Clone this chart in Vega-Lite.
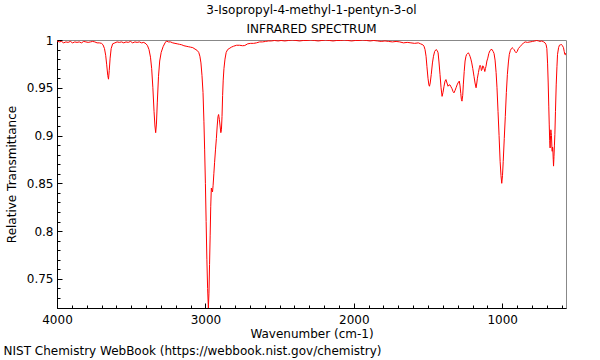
{
  "$schema": "https://vega.github.io/schema/vega-lite/v6.json",
  "width": 509,
  "height": 268,
  "autosize": {"type": "none"},
  "padding": {"left": 57, "top": 40, "right": 34, "bottom": 52},
  "background": "white",
  "config": {
    "font": "DejaVu Sans",
    "view": {"stroke": "#888888", "strokeWidth": 1},
    "axis": {"grid": false, "domainColor": "black", "tickColor": "black", "labelColor": "black", "titleColor": "black", "labelFontSize": 12, "titleFontSize": 12, "titleFontWeight": "normal", "labelFont": "DejaVu Sans", "titleFont": "DejaVu Sans", "labelFlush": false}
  },
  "title": {"text": ["3-Isopropyl-4-methyl-1-pentyn-3-ol", "INFRARED SPECTRUM"], "fontSize": 12, "fontWeight": "normal", "lineHeight": 19, "anchor": "middle", "frame": "group", "offset": -2, "color": "black", "font": "DejaVu Sans"},
  "data": {"values": [
    {"w":4000,"T":0.999},{"w":3985,"T":0.998},{"w":3970,"T":0.9985},{"w":3955,"T":0.997},{"w":3940,"T":0.998},{"w":3925,"T":0.9975},{"w":3910,"T":0.9985},{"w":3895,"T":0.997},{"w":3880,"T":0.998},{"w":3865,"T":0.9975},{"w":3850,"T":0.998},{"w":3835,"T":0.997},{"w":3820,"T":0.9985},{"w":3805,"T":0.998},{"w":3790,"T":0.9975},{"w":3775,"T":0.998},{"w":3760,"T":0.9985},{"w":3745,"T":0.998},{"w":3730,"T":0.997},{"w":3715,"T":0.997},{"w":3700,"T":0.9965},{"w":3690,"T":0.995},{"w":3680,"T":0.991},{"w":3672,"T":0.984},{"w":3665,"T":0.974},{"w":3658,"T":0.963},{"w":3653,"T":0.959},{"w":3648,"T":0.968},{"w":3642,"T":0.981},{"w":3635,"T":0.991},{"w":3625,"T":0.996},{"w":3610,"T":0.997},{"w":3595,"T":0.998},{"w":3580,"T":0.9975},{"w":3565,"T":0.998},{"w":3550,"T":0.997},{"w":3535,"T":0.998},{"w":3520,"T":0.9975},{"w":3505,"T":0.9985},{"w":3490,"T":0.997},{"w":3475,"T":0.998},{"w":3460,"T":0.9975},{"w":3445,"T":0.998},{"w":3430,"T":0.997},{"w":3415,"T":0.9975},{"w":3400,"T":0.996},{"w":3390,"T":0.994},{"w":3380,"T":0.99},{"w":3370,"T":0.982},{"w":3362,"T":0.97},{"w":3354,"T":0.95},{"w":3346,"T":0.925},{"w":3340,"T":0.91},{"w":3335,"T":0.903},{"w":3330,"T":0.912},{"w":3324,"T":0.935},{"w":3316,"T":0.962},{"w":3308,"T":0.978},{"w":3298,"T":0.987},{"w":3285,"T":0.993},{"w":3272,"T":0.997},{"w":3262,"T":0.999},{"w":3250,"T":0.998},{"w":3235,"T":0.998},{"w":3220,"T":0.997},{"w":3205,"T":0.9965},{"w":3190,"T":0.996},{"w":3175,"T":0.9955},{"w":3160,"T":0.995},{"w":3145,"T":0.994},{"w":3130,"T":0.9935},{"w":3115,"T":0.993},{"w":3100,"T":0.9925},{"w":3085,"T":0.992},{"w":3070,"T":0.9905},{"w":3055,"T":0.989},{"w":3045,"T":0.987},{"w":3037,"T":0.983},{"w":3030,"T":0.976},{"w":3023,"T":0.963},{"w":3016,"T":0.945},{"w":3010,"T":0.915},{"w":3005,"T":0.885},{"w":3000,"T":0.85},{"w":2995,"T":0.81},{"w":2990,"T":0.77},{"w":2985,"T":0.74},{"w":2980,"T":0.7195},{"w":2976,"T":0.735},{"w":2972,"T":0.765},{"w":2968,"T":0.795},{"w":2964,"T":0.826},{"w":2960,"T":0.845},{"w":2956,"T":0.843},{"w":2952,"T":0.841},{"w":2948,"T":0.848},{"w":2943,"T":0.86},{"w":2938,"T":0.872},{"w":2932,"T":0.885},{"w":2926,"T":0.897},{"w":2920,"T":0.911},{"w":2915,"T":0.92},{"w":2911,"T":0.922},{"w":2906,"T":0.917},{"w":2901,"T":0.91},{"w":2896,"T":0.903},{"w":2892,"T":0.906},{"w":2888,"T":0.92},{"w":2884,"T":0.942},{"w":2880,"T":0.958},{"w":2875,"T":0.97},{"w":2868,"T":0.98},{"w":2860,"T":0.987},{"w":2850,"T":0.99},{"w":2840,"T":0.991},{"w":2825,"T":0.9925},{"w":2810,"T":0.9935},{"w":2790,"T":0.9945},{"w":2770,"T":0.9945},{"w":2750,"T":0.994},{"w":2735,"T":0.9942},{"w":2715,"T":0.996},{"w":2695,"T":0.9965},{"w":2675,"T":0.9965},{"w":2656,"T":0.997},{"w":2635,"T":0.998},{"w":2615,"T":0.998},{"w":2595,"T":0.9985},{"w":2575,"T":0.999},{"w":2555,"T":0.999},{"w":2535,"T":0.9995},{"w":2510,"T":0.999},{"w":2490,"T":0.9995},{"w":2465,"T":0.999},{"w":2440,"T":0.9995},{"w":2415,"T":1.0},{"w":2390,"T":0.9995},{"w":2365,"T":0.999},{"w":2340,"T":0.9995},{"w":2315,"T":0.9995},{"w":2290,"T":1.0},{"w":2265,"T":0.9995},{"w":2240,"T":0.999},{"w":2215,"T":0.9995},{"w":2190,"T":1.0},{"w":2165,"T":0.9995},{"w":2140,"T":0.999},{"w":2115,"T":0.9995},{"w":2090,"T":0.9995},{"w":2065,"T":1.0},{"w":2040,"T":0.9995},{"w":2015,"T":0.999},{"w":1990,"T":0.9995},{"w":1965,"T":0.9995},{"w":1940,"T":1.0},{"w":1915,"T":0.9995},{"w":1890,"T":0.999},{"w":1865,"T":0.9995},{"w":1840,"T":0.999},{"w":1815,"T":0.9985},{"w":1790,"T":0.999},{"w":1765,"T":0.9985},{"w":1740,"T":0.998},{"w":1715,"T":0.9985},{"w":1690,"T":0.998},{"w":1665,"T":0.997},{"w":1640,"T":0.9975},{"w":1615,"T":0.997},{"w":1590,"T":0.9965},{"w":1565,"T":0.997},{"w":1550,"T":0.996},{"w":1535,"T":0.995},{"w":1527,"T":0.9935},{"w":1520,"T":0.99},{"w":1513,"T":0.983},{"w":1507,"T":0.972},{"w":1500,"T":0.96},{"w":1494,"T":0.953},{"w":1490,"T":0.9516},{"w":1485,"T":0.955},{"w":1478,"T":0.964},{"w":1470,"T":0.976},{"w":1463,"T":0.983},{"w":1455,"T":0.988},{"w":1446,"T":0.99},{"w":1438,"T":0.989},{"w":1432,"T":0.9866},{"w":1426,"T":0.977},{"w":1419,"T":0.964},{"w":1412,"T":0.95},{"w":1405,"T":0.941},{"w":1399,"T":0.945},{"w":1392,"T":0.9516},{"w":1385,"T":0.957},{"w":1379,"T":0.9586},{"w":1372,"T":0.955},{"w":1365,"T":0.9516},{"w":1358,"T":0.953},{"w":1352,"T":0.953},{"w":1345,"T":0.951},{"w":1338,"T":0.949},{"w":1331,"T":0.946},{"w":1325,"T":0.9447},{"w":1318,"T":0.947},{"w":1311,"T":0.95},{"w":1304,"T":0.953},{"w":1298,"T":0.955},{"w":1289,"T":0.957},{"w":1284,"T":0.952},{"w":1279,"T":0.944},{"w":1275,"T":0.938},{"w":1271,"T":0.936},{"w":1266,"T":0.942},{"w":1262,"T":0.953},{"w":1256,"T":0.967},{"w":1250,"T":0.978},{"w":1244,"T":0.983},{"w":1239,"T":0.985},{"w":1233,"T":0.986},{"w":1228,"T":0.9866},{"w":1222,"T":0.985},{"w":1217,"T":0.983},{"w":1211,"T":0.98},{"w":1205,"T":0.976},{"w":1198,"T":0.97},{"w":1190,"T":0.962},{"w":1183,"T":0.955},{"w":1176,"T":0.95},{"w":1171,"T":0.955},{"w":1167,"T":0.96},{"w":1160,"T":0.966},{"w":1154,"T":0.971},{"w":1149,"T":0.9735},{"w":1144,"T":0.972},{"w":1140,"T":0.968},{"w":1136,"T":0.969},{"w":1131,"T":0.973},{"w":1127,"T":0.9725},{"w":1122,"T":0.97},{"w":1117,"T":0.967},{"w":1113,"T":0.97},{"w":1109,"T":0.9725},{"w":1103,"T":0.978},{"w":1097,"T":0.981},{"w":1090,"T":0.986},{"w":1082,"T":0.989},{"w":1075,"T":0.99},{"w":1068,"T":0.99},{"w":1061,"T":0.988},{"w":1055,"T":0.986},{"w":1048,"T":0.979},{"w":1041,"T":0.966},{"w":1035,"T":0.95},{"w":1028,"T":0.925},{"w":1021,"T":0.9},{"w":1014,"T":0.873},{"w":1008,"T":0.858},{"w":1003,"T":0.85},{"w":998,"T":0.858},{"w":993,"T":0.873},{"w":986,"T":0.897},{"w":979,"T":0.92},{"w":972,"T":0.945},{"w":965,"T":0.964},{"w":958,"T":0.977},{"w":952,"T":0.985},{"w":945,"T":0.989},{"w":938,"T":0.991},{"w":933,"T":0.992},{"w":926,"T":0.991},{"w":920,"T":0.99},{"w":913,"T":0.988},{"w":906,"T":0.9866},{"w":899,"T":0.988},{"w":891,"T":0.991},{"w":880,"T":0.993},{"w":868,"T":0.995},{"w":856,"T":0.997},{"w":845,"T":0.998},{"w":830,"T":0.9975},{"w":812,"T":0.998},{"w":795,"T":0.9985},{"w":780,"T":0.999},{"w":767,"T":0.9995},{"w":755,"T":0.999},{"w":745,"T":0.9985},{"w":733,"T":0.999},{"w":720,"T":0.998},{"w":711,"T":0.997},{"w":704,"T":0.995},{"w":699,"T":0.991},{"w":694,"T":0.975},{"w":690,"T":0.955},{"w":686,"T":0.93},{"w":683,"T":0.912},{"w":680,"T":0.895},{"w":677,"T":0.887},{"w":674,"T":0.9},{"w":672,"T":0.906},{"w":670,"T":0.903},{"w":668,"T":0.9},{"w":665,"T":0.888},{"w":663,"T":0.8835},{"w":661,"T":0.888},{"w":659,"T":0.887},{"w":656,"T":0.875},{"w":654,"T":0.868},{"w":651,"T":0.878},{"w":648,"T":0.89},{"w":645,"T":0.901},{"w":641,"T":0.925},{"w":636,"T":0.953},{"w":631,"T":0.972},{"w":627,"T":0.985},{"w":620,"T":0.992},{"w":614,"T":0.9946},{"w":607,"T":0.995},{"w":600,"T":0.9953},{"w":594,"T":0.994},{"w":587,"T":0.992},{"w":582,"T":0.988},{"w":578,"T":0.985},{"w":574,"T":0.986},{"w":570,"T":0.984}
  ]},
  "layer": [
    {
      "mark": {"type": "line", "color": "#ff0000", "strokeWidth": 1, "clip": true},
      "encoding": {
        "x": {"field": "w", "type": "quantitative", "scale": {"domain": [4000, 570], "nice": false, "zero": false},
              "axis": {"orient": "bottom", "values": [1000, 2000, 3000, 4000], "format": "d", "tickSize": -5, "labelPadding": 11, "title": "Wavenumber (cm-1)", "titlePadding": 3}},
        "y": {"field": "T", "type": "quantitative", "scale": {"domain": [0.7195, 1.0], "nice": false, "zero": false},
              "axis": {"orient": "left", "values": [0.75, 0.8, 0.85, 0.9, 0.95, 1.0], "format": "~g", "tickSize": -5, "labelPadding": 9, "title": "Relative Transmittance", "titlePadding": 8}}
      }
    },
    {
      "mark": {"type": "line", "strokeOpacity": 0},
      "encoding": {
        "x": {"field": "w", "type": "quantitative",
              "axis": {"orient": "bottom", "values": [600,700,800,900,1100,1200,1300,1400,1500,1600,1700,1800,1900,2100,2200,2300,2400,2500,2600,2700,2800,2900,3100,3200,3300,3400,3500,3600,3700,3800,3900], "tickSize": -3, "labels": false, "domain": false,
                       "title": "NIST Chemistry WebBook (https://webbook.nist.gov/chemistry)", "titleAnchor": "start", "titleAlign": "left", "titleBaseline": "top", "titleX": -54, "titleY": 37}},
        "y": {"field": "T", "type": "quantitative",
              "axis": {"orient": "left", "values": [0.72,0.73,0.74,0.76,0.77,0.78,0.79,0.81,0.82,0.83,0.84,0.86,0.87,0.88,0.89,0.91,0.92,0.93,0.94,0.96,0.97,0.98,0.99], "tickSize": -3, "labels": false, "domain": false, "title": null}}
      }
    }
  ],
  "resolve": {"axis": {"x": "independent", "y": "independent"}}
}
